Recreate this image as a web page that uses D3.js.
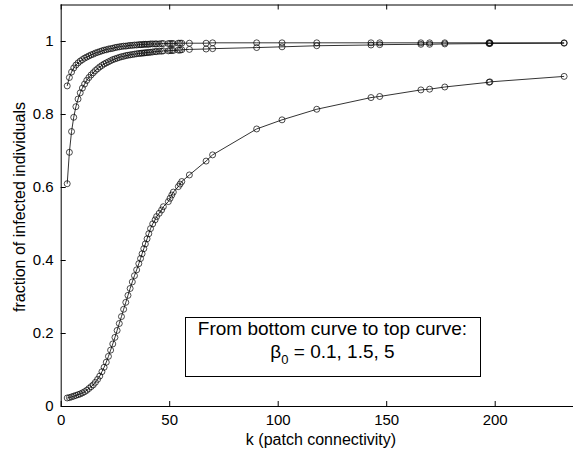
<!DOCTYPE html>
<html>
<head>
<meta charset="utf-8">
<script src="https://cdn.jsdelivr.net/npm/d3@7"></script>
<style>
  html, body { margin: 0; padding: 0; background: #fff; }
  svg { display: block; }
  text { font-family: "Liberation Sans", Arial, Helvetica, sans-serif; fill: #000; }
</style>
</head>
<body>
<svg id="chart" width="573" height="453"></svg>
<script>
// ---- data ----
const kValues = [3,4,5,6,7,8,9,10,11,12,13,14,15,16,17,18,19,20,21,22,23,24,25,26,27,28,29,30,31,32,33,34,35,36,36.8,37.5,38.3,39,39.8,40.6,41.4,42.4,43.5,44.2,45.4,46.5,47.3,49.6,50.4,51.2,51.9,54.2,55,55.8,59.3,67,70,90.3,102,118,143,147,166,170,177,197.4,197.8,232];

// beta0 = 0.1 (bottom curve)
const beta01 = [0.022,0.023,0.025,0.027,0.029,0.031,0.033,0.036,0.039,0.043,0.048,0.053,0.058,0.065,0.073,0.082,0.094,0.106,0.120,0.136,0.153,0.170,0.188,0.207,0.226,0.245,0.265,0.284,0.303,0.322,0.340,0.357,0.373,0.390,0.404,0.417,0.431,0.444,0.458,0.472,0.486,0.499,0.510,0.519,0.528,0.537,0.546,0.560,0.569,0.578,0.586,0.601,0.608,0.615,0.633,0.671,0.688,0.759,0.784,0.813,0.845,0.848,0.866,0.868,0.874,0.887,0.888,0.903];

// beta0 = 1.5 (middle curve)
const beta15 = [0.609,0.695,0.752,0.791,0.820,0.841,0.858,0.871,0.882,0.892,0.900,0.907,0.913,0.919,0.924,0.929,0.933,0.937,0.940,0.943,0.946,0.949,0.951,0.953,0.955,0.957,0.958,0.960,0.961,0.962,0.963,0.964,0.965,0.966,0.966,0.967,0.967,0.968,0.968,0.969,0.969,0.970,0.971,0.971,0.972,0.972,0.973,0.973,0.974,0.974,0.974,0.975,0.975,0.976,0.977,0.978,0.979,0.982,0.984,0.987,0.989,0.990,0.991,0.991,0.992,0.993,0.993,0.994];

// beta0 = 5 (top curve)
const beta5 = [0.877,0.900,0.915,0.926,0.934,0.940,0.945,0.949,0.953,0.956,0.959,0.962,0.964,0.967,0.969,0.971,0.973,0.975,0.976,0.978,0.979,0.980,0.982,0.983,0.984,0.985,0.986,0.986,0.987,0.988,0.988,0.989,0.989,0.990,0.990,0.990,0.991,0.991,0.991,0.991,0.992,0.992,0.992,0.992,0.992,0.993,0.993,0.993,0.993,0.993,0.993,0.994,0.994,0.994,0.994,0.994,0.995,0.995,0.995,0.995,0.995,0.995,0.995,0.995,0.995,0.995,0.995,0.995];

const xTicks = [0, 50, 100, 150, 200];
const yTicks = [0, 0.2, 0.4, 0.6, 0.8, 1];
const xTitle = "k (patch connectivity)";
const yTitle = "fraction of infected individuals";
const legendLine1 = "From bottom curve to top curve:";
const legendBeta = "\u03B2";
const legendSub = "0";
const legendRest = " = 0.1, 1.5, 5";

// ---- layout ----
const svg = d3.select("#chart");
const x = d3.scaleLinear().domain([0, 240]).range([60.7, 581.5]);
const y = d3.scaleLinear().domain([0, 1.1]).range([406, 4.5]);

const series = [beta01, beta15, beta5];

// lines
const line = d3.line().x(d => x(d[0])).y(d => y(d[1]));
const g = svg.append("g");
series.forEach(s => {
  const pts = kValues.map((k, i) => [k, s[i]]);
  g.append("path").attr("d", line(pts))
    .attr("fill", "none").attr("stroke", "#000").attr("stroke-width", 0.8);
  g.selectAll(null).data(pts).enter().append("circle")
    .attr("cx", d => x(d[0])).attr("cy", d => y(d[1])).attr("r", 3)
    .attr("fill", "none").attr("stroke", "#000").attr("stroke-width", 0.7);
});

// axes (MATLAB style: inward ticks, box)
const fs = 15;
const xAxisB = d3.axisBottom(x).tickValues(xTicks).tickSize(-5).tickPadding(8).tickFormat(d3.format("d"));
const xAxisT = d3.axisTop(x).tickValues(xTicks).tickSize(-5).tickFormat("");
const yAxisL = d3.axisLeft(y).tickValues(yTicks).tickSize(-5).tickPadding(7).tickFormat(d => d === 0 || d === 1 ? d3.format("d")(d) : d3.format(".1f")(d));
const yAxisR = d3.axisRight(y).tickValues(yTicks).tickSize(-5).tickFormat("");

function style(sel) {
  sel.selectAll("path.domain").attr("stroke", "#000").attr("stroke-width", 1);
  sel.selectAll(".tick line").attr("stroke", "#000").attr("stroke-width", 1);
  sel.selectAll(".tick text").attr("font-size", fs).attr("font-family", "Liberation Sans, Arial, sans-serif").attr("fill", "#000");
}

svg.append("g").attr("transform", `translate(0,${y(0)})`).call(xAxisB).call(style).call(s => s.select(".domain").attr("d", `M${x(0)},0.5H${x(240)}`));
svg.append("g").attr("transform", `translate(0,${y(1.1)})`).call(xAxisT).call(style).call(s => s.select(".domain").attr("d", `M${x(0)},0.5H${x(240)}`));
svg.append("g").attr("transform", `translate(${x(0)},0)`).call(yAxisL).call(style).call(s => s.select(".domain").attr("d", `M0.5,${y(0)}V${y(1.1)}`));
svg.append("g").attr("transform", `translate(${x(240)},0)`).call(yAxisR).call(style);

// titles
svg.append("text").attr("x", 321).attr("y", 445).attr("text-anchor", "middle")
  .attr("font-size", 16).text(xTitle);
svg.append("text").attr("transform", "translate(25,207) rotate(-90)").attr("text-anchor", "middle")
  .attr("font-size", 16).text(yTitle);

// legend annotation box
svg.append("rect").attr("x", 185.5).attr("y", 317.5).attr("width", 295).attr("height", 59)
  .attr("fill", "#fff").attr("stroke", "#000").attr("stroke-width", 1);
svg.append("text").attr("x", 332.5).attr("y", 335).attr("text-anchor", "middle")
  .attr("font-size", 19).text(legendLine1);
const t2 = svg.append("text").attr("x", 332.5).attr("y", 357.5).attr("text-anchor", "middle").attr("font-size", 19);
t2.append("tspan").text(legendBeta);
t2.append("tspan").attr("font-size", 13).attr("dy", 6).text(legendSub);
t2.append("tspan").attr("dy", -6).text(legendRest);
</script>
</body>
</html>
